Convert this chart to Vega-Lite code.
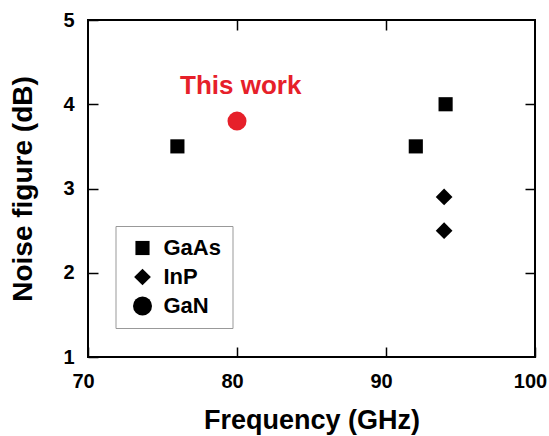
{
  "$schema": "https://vega.github.io/schema/vega-lite/v6.json",
  "width": 447,
  "height": 337,
  "autosize": {"type": "none"},
  "padding": {"left": 88, "top": 20, "right": 14, "bottom": 79},
  "background": "white",
  "config": {
    "font": "Liberation Sans",
    "view": {"stroke": "#000", "strokeWidth": 2},
    "axis": {
      "grid": false,
      "domain": false,
      "labelFlush": false,
      "labelFont": "Liberation Sans",
      "labelFontWeight": "bold",
      "labelFontSize": 20,
      "labelColor": "#000",
      "titleFont": "Liberation Sans",
      "titleFontWeight": "bold",
      "titleColor": "#000",
      "tickColor": "#000",
      "tickWidth": 1.5
    },
    "legend": {
      "orient": "none",
      "legendX": 27.5,
      "legendY": 206,
      "strokeColor": "#999",
      "fillColor": "white",
      "padding": 11,
      "symbolOffset": 5,
      "labelFont": "Liberation Sans",
      "labelFontSize": 22,
      "labelFontWeight": "bold",
      "labelColor": "#000",
      "labelOffset": 10,
      "rowPadding": 7,
      "symbolFillColor": "#000",
      "symbolStrokeWidth": 0
    }
  },
  "datasets": {
    "points": [
      {"freq": 76.0, "nf": 3.5, "type": "GaAs"},
      {"freq": 92.0, "nf": 3.5, "type": "GaAs"},
      {"freq": 94.0, "nf": 4.0, "type": "GaAs"},
      {"freq": 93.9, "nf": 2.9, "type": "InP"},
      {"freq": 93.9, "nf": 2.5, "type": "InP"},
      {"freq": 80.0, "nf": 3.8, "type": "GaN"}
    ],
    "labels": [
      {"freq": 80.25, "nf": 4.22, "text": "This work"}
    ]
  },
  "resolve": {"axis": {"x": "independent", "y": "independent"}},
  "layer": [
    {
      "data": {"name": "points"},
      "transform": [{"filter": "datum.type !== 'GaN'"}],
      "mark": {"type": "point", "filled": true, "color": "#000", "opacity": 1, "strokeWidth": 0},
      "encoding": {
        "x": {
          "field": "freq", "type": "quantitative",
          "scale": {"domain": [70, 100], "nice": false, "zero": false},
          "axis": {"orient": "bottom", "values": [70, 80, 90, 100], "ticks": true, "tickSize": -10, "labelPadding": 24, "labelOffset": -5, "title": "Frequency (GHz)", "titleFontSize": 27, "titlePadding": 16}
        },
        "y": {
          "field": "nf", "type": "quantitative",
          "scale": {"domain": [1, 5], "nice": false, "zero": false},
          "axis": {"orient": "left", "values": [1, 2, 3, 4, 5], "ticks": true, "tickSize": -10, "labelPadding": 24, "title": "Noise figure (dB)", "titleFontSize": 28, "titlePadding": 25}
        },
        "shape": {
          "field": "type", "type": "nominal",
          "scale": {"domain": ["GaAs", "InP", "GaN"], "range": ["square", "diamond", "circle"]},
          "legend": {"title": null}
        },
        "size": {
          "field": "type", "type": "nominal",
          "scale": {"domain": ["GaAs", "InP", "GaN"], "range": [200, 361, 484]},
          "legend": {"title": null}
        }
      }
    },
    {
      "data": {"name": "points"},
      "transform": [{"filter": "datum.type === 'GaN'"}],
      "mark": {"type": "point", "filled": true, "color": "#e6202a", "opacity": 1, "strokeWidth": 0},
      "encoding": {
        "x": {
          "field": "freq", "type": "quantitative",
          "axis": {"orient": "top", "values": [80, 90], "labels": false, "ticks": true, "tickSize": -10, "title": null}
        },
        "y": {
          "field": "nf", "type": "quantitative",
          "axis": {"orient": "right", "values": [2, 3, 4], "labels": false, "ticks": true, "tickSize": -10, "title": null}
        },
        "shape": {"field": "type", "type": "nominal", "legend": {"title": null}},
        "size": {"field": "type", "type": "nominal", "legend": {"title": null}}
      }
    },
    {
      "data": {"name": "labels"},
      "mark": {"type": "text", "color": "#e6202a", "font": "Liberation Sans", "fontWeight": "bold", "fontSize": 26, "baseline": "middle", "align": "center"},
      "encoding": {
        "x": {"field": "freq", "type": "quantitative", "axis": null},
        "y": {"field": "nf", "type": "quantitative", "axis": null},
        "text": {"field": "text", "type": "nominal"}
      }
    }
  ]
}
